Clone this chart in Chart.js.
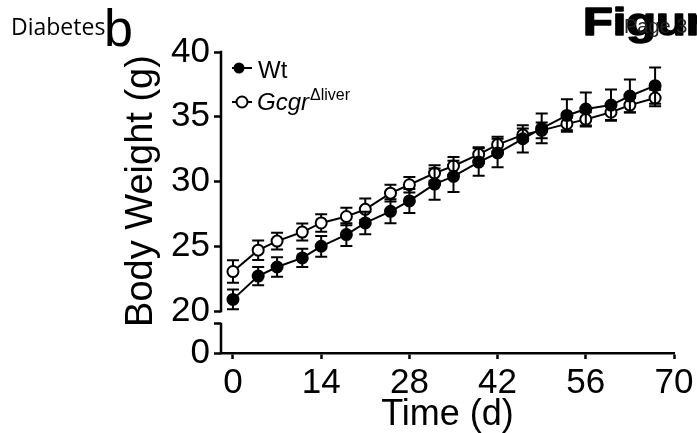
<!DOCTYPE html>
<html><head><meta charset="utf-8">
<script src="https://cdn.jsdelivr.net/npm/chart.js@4.4.1/dist/chart.umd.min.js"></script>
<style>html,body{margin:0;padding:0;background:#fff;overflow:hidden}canvas{display:block}</style>
</head><body>
<canvas id="c" width="697" height="433"></canvas>
<script>
// ---- data ----
const days   = [0, 4, 7, 11, 14, 18, 21, 25, 28, 32, 35, 39, 42, 46, 49, 53, 56, 60, 63, 67];
const wtMean = [20.9, 22.7, 23.4, 24.1, 25.0, 25.9, 26.8, 27.7, 28.5, 29.8, 30.4, 31.5, 32.2, 33.3, 34.1, 35.1, 35.6, 35.9, 36.6, 37.4];
const wtSem  = [0.77, 0.7, 0.75, 0.7, 0.8, 0.87, 0.87, 0.93, 0.93, 1.2, 1.2, 1.06, 1.1, 1.05, 1.15, 1.25, 1.28, 1.2, 1.28, 1.4];
const koMean = [23.05, 24.7, 25.4, 26.1, 26.8, 27.3, 27.85, 29.1, 29.75, 30.65, 31.2, 32.1, 32.85, 33.6, 33.95, 34.45, 34.8, 35.35, 35.9, 36.45];
const koSem  = [0.87, 0.75, 0.65, 0.65, 0.67, 0.68, 0.83, 0.65, 0.6, 0.6, 0.7, 0.55, 0.6, 0.5, 0.6, 0.5, 0.55, 0.6, 0.55, 0.64];
const xTicks = [0, 14, 28, 42, 56, 70];
const yTicks = [20, 25, 30, 35, 40];
const yZeroLabel = '0';
const seriesNames = ['Wt', 'Gcgr'];
const koSuperscript = '\u0394liver';
const xTitle = 'Time (d)';
const yTitle = 'Body Weight (g)';

// axis range (break: bottom of axis stands for 0)
const Y_MIN = 16.76, Y_BREAK = 19.0, X_MIN = -1.9, X_MAX = 70;
const FONT = "'Liberation Sans', Arial, sans-serif";

const toPts = (m) => days.map((d, i) => ({x: d, y: m[i]}));

const errorBars = {
  id: 'errorBars',
  beforeDatasetDraw(chart, args) {
    const ds = chart.data.datasets[args.index];
    const err = ds.errors; if (!err) return;
    const {ctx, scales: {x, y}} = chart;
    ctx.save(); ctx.strokeStyle = '#000'; ctx.lineWidth = 2;
    ds.data.forEach((p, i) => {
      const px = x.getPixelForValue(p.x);
      const t = y.getPixelForValue(p.y + err[i]), b = y.getPixelForValue(p.y - err[i]);
      ctx.beginPath();
      ctx.moveTo(px, t); ctx.lineTo(px, b);
      ctx.moveTo(px - 6, t); ctx.lineTo(px + 6, t);
      ctx.moveTo(px - 6, b); ctx.lineTo(px + 6, b);
      ctx.stroke();
    });
    ctx.restore();
  }
};

const decor = {
  id: 'decor',
  afterDraw(chart) {
    const {ctx, scales: {y}, chartArea} = chart;
    const ax = chartArea.left;
    ctx.save();
    // broken y axis
    ctx.strokeStyle = '#000'; ctx.lineWidth = 2.5; ctx.lineCap = 'butt';
    ctx.beginPath();
    ctx.moveTo(ax, y.getPixelForValue(40) - 1.25); ctx.lineTo(ax, y.getPixelForValue(20) + 1.25);
    ctx.moveTo(ax, y.getPixelForValue(Y_BREAK) - 1.25); ctx.lineTo(ax, y.getPixelForValue(Y_MIN));
    ctx.stroke();

    // y title
    ctx.fillStyle = '#000';
    ctx.save();
    ctx.translate(152, 191); ctx.rotate(-Math.PI / 2);
    ctx.font = `38px ${FONT}`; ctx.textAlign = 'center'; ctx.textBaseline = 'alphabetic';
    ctx.fillText(yTitle, 0, 0);
    ctx.restore();

    // legend
    ctx.lineWidth = 2;
    ctx.beginPath(); ctx.moveTo(232, 68); ctx.lineTo(252, 68); ctx.stroke();
    ctx.beginPath(); ctx.arc(239, 68, 5.5, 0, Math.PI * 2); ctx.fill();
    ctx.beginPath(); ctx.moveTo(232, 102); ctx.lineTo(252, 102); ctx.stroke();
    ctx.beginPath(); ctx.arc(242, 102, 5.5, 0, Math.PI * 2);
    ctx.fillStyle = '#fff'; ctx.fill(); ctx.stroke();
    ctx.fillStyle = '#000';
    ctx.textAlign = 'left'; ctx.textBaseline = 'alphabetic';
    ctx.font = `24px ${FONT}`;
    ctx.fillText(seriesNames[0], 258, 77.5);
    ctx.font = `italic 24px ${FONT}`;
    ctx.fillText(seriesNames[1], 257, 110);
    const w = ctx.measureText(seriesNames[1]).width;
    ctx.font = `16px ${FONT}`;
    ctx.fillText(koSuperscript, 257 + w + 1, 100);

    // header texts
    ctx.font = `23px 'Open Sans', sans-serif`;
    ctx.fillText('Diabetes', 11, 35);
    ctx.font = `52px ${FONT}`;
    ctx.fillText('b', 104, 46);
    ctx.save();
    ctx.translate(583, 35); ctx.scale(1.28, 1);
    ctx.font = `bold 38px ${FONT}`;
    ctx.lineWidth = 1.6; ctx.strokeStyle = '#000'; ctx.lineJoin = 'round';
    ctx.fillText('Figure 3', 0, 0);
    ctx.strokeText('Figure 3', 0, 0);
    ctx.restore();
    ctx.fillStyle = '#222';
    ctx.font = `20px ${FONT}`;
    ctx.fillText('Page 3', 624, 33);
    ctx.restore();
  }
};

Chart.defaults.font.family = FONT;
Chart.defaults.color = '#000';

new Chart(document.getElementById('c'), {
  type: 'line',
  data: {
    datasets: [
      {label: seriesNames[0], data: toPts(wtMean), errors: wtSem,
       borderColor: '#000', borderWidth: 2, backgroundColor: '#000',
       pointRadius: 5.5, pointBorderWidth: 2, pointBorderColor: '#000', pointBackgroundColor: '#000',
       tension: 0},
      {label: seriesNames[1], data: toPts(koMean), errors: koSem,
       borderColor: '#000', borderWidth: 2, backgroundColor: '#fff',
       pointRadius: 5.5, pointBorderWidth: 2, pointBorderColor: '#000', pointBackgroundColor: '#fff',
       tension: 0}
    ]
  },
  options: {
    responsive: false, animation: false, devicePixelRatio: 1,
    events: [],
    layout: {padding: {left: 0, top: 52, right: 23, bottom: 0}},
    plugins: {legend: {display: false}, tooltip: {enabled: false}},
    scales: {
      x: {
        type: 'linear', min: X_MIN, max: X_MAX,
        afterBuildTicks: (s) => { s.ticks = xTicks.map(v => ({value: v})); },
        afterFit: (s) => { s.height = 80; },
        ticks: {font: {size: 35}, color: '#000', padding: 3, maxRotation: 0, autoSkip: false},
        grid: {drawOnChartArea: false, drawTicks: true, tickLength: 6, tickWidth: 2.5, tickColor: '#000'},
        border: {display: true, color: '#000', width: 2.5},
        title: {display: true, text: xTitle, color: '#000', font: {size: 36, lineHeight: 1}, padding: 0}
      },
      y: {
        type: 'linear', min: Y_MIN, max: 40,
        afterBuildTicks: (s) => { s.ticks = [Y_MIN, Y_BREAK, ...yTicks].map(v => ({value: v})); },
        afterFit: (s) => { s.width = 221; },
        ticks: {
          font: {size: 35}, color: '#000', padding: 4, autoSkip: false,
          callback: (v) => v === Y_MIN ? yZeroLabel : (v === Y_BREAK ? '' : String(v))
        },
        grid: {drawOnChartArea: false, drawTicks: true, tickLength: 7, tickWidth: 2.5, tickColor: '#000'},
        border: {display: false}
      }
    }
  },
  plugins: [errorBars, decor]
});
</script>
</body></html>
